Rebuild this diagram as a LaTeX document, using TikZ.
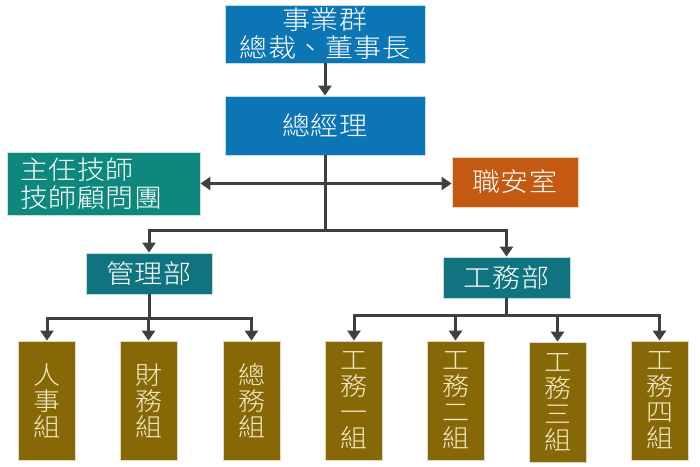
\documentclass[tikz,border=0pt]{standalone}
\usepackage[svgnames]{xcolor}
\usepackage{fontspec}
\setmainfont{Noto Sans CJK TC Light}[FakeStretch=1.08,LetterSpace=2]
\usepackage{tikz}
\usetikzlibrary{arrows.meta}
\usetikzlibrary{calc}

\definecolor{TopBlue}{RGB}{12,118,180}
\definecolor{TechTeal}{RGB}{14,136,124}
\definecolor{DeptTeal}{RGB}{16,116,128}
\definecolor{SafeOrange}{RGB}{196,89,17}
\definecolor{TeamGold}{RGB}{135,104,7}
\definecolor{TeamText}{RGB}{244,234,200}
\definecolor{LinkGray}{RGB}{64,64,64}

\tikzset{
  box/.style={draw=white!75!#1,line width=0.8pt,fill=#1,text=white,inner sep=0pt,align=center,
    font=\fontsize{26}{28}\selectfont},
  teambox/.style={box=TeamGold,text=TeamText,minimum width=57,minimum height=119,
    font=\fontsize{25}{26}\selectfont},
  link/.style={line width=3pt,color=LinkGray,->}
}

\begin{document}
\begin{tikzpicture}[line cap=butt,line join=miter,>={Triangle[width=13pt,length=10pt]},x=1pt,y=-1pt]
\useasboundingbox (0,0) rectangle (700,466);

\draw (325,34) node[box=TopBlue,minimum width=200,minimum height=58] (ceo) {事業群\\總裁、董事長};
\draw (325,125.5) node[box=TopBlue,minimum width=200,minimum height=59] (gm) {總經理};
\draw (103.5,183.5) node[box=TechTeal,minimum width=193,minimum height=63,align=left,text width=167] (tech) {主任技師\\技師顧問團};
\draw (515,182) node[box=SafeOrange,minimum width=126,minimum height=50] (safe) {職安室};
\draw (149,273.5) node[box=DeptTeal,minimum width=126,minimum height=41] (mgmt) {管理部};
\draw (506.5,277.5) node[box=DeptTeal,minimum width=127,minimum height=41] (works) {工務部};

%\draw the team boxes
\draw (47,400.5) node[teambox] (hr) {人\\事\\組};
\draw (148.5,400.5) node[teambox] (fin) {財\\務\\組};
\draw (251.5,400.5) node[teambox] (gen) {總\\務\\組};
\draw (354,400.5) node[teambox] (w1) {工\\務\\一\\組};
\draw (455.5,400.5) node[teambox] (w2) {工\\務\\二\\組};
\draw (557.5,402) node[teambox,minimum height=120] (w3) {工\\務\\三\\組};
\draw (659.5,400.5) node[teambox] (w4) {工\\務\\四\\組};

\coordinate (split) at (325,230.5);
\coordinate (mbar) at (149,318);
\coordinate (wbar) at (506.5,315.5);

\path (ceo) edge[link] (gm);
\draw[link,<->] (tech.east) -- (tech.east -| safe.west);
\draw[line width=3pt,color=LinkGray] (gm.south) -- (split);
\draw[link] (split) -| (mgmt.north);
\draw[link] (split) -| (works.north);
\foreach \t in {hr,fin,gen}
  \draw[link] (mgmt.south) -- (mbar) -| (\t.north);
\foreach \t in {w1,w2,w3,w4}
  \draw[link] (works.south) -- (wbar) -| (\t.north);
\end{tikzpicture}
\end{document}
